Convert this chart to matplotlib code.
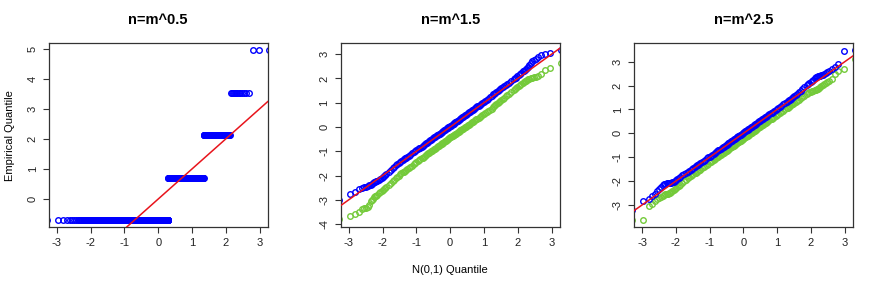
import matplotlib
matplotlib.use("Agg")
import matplotlib.pyplot as plt
import numpy as np
from statistics import NormalDist

n_obs = 1000
titles = ["n=m^0.5", "n=m^1.5", "n=m^2.5"]

# panel 1: standardized sample only takes a few values -> level + how many obs
levels_05 = [-0.71, 0.71, 2.12, 3.54, 4.95]
counts_05 = [618, 293, 73, 13, 3]

ranks = (list(range(1, 16)) + list(range(16, 31, 2)) + list(range(35, 101, 5))
         + list(range(110, 891, 10)) + list(range(900, 966, 5))
         + list(range(971, 986, 2)) + list(range(986, 1001)))

blue_15 = [-3.02, -2.75, -2.68, -2.57, -2.51, -2.48, -2.46, -2.44, -2.41, -2.38, -2.33, -2.30, -2.27, -2.25, -2.23,
           -2.22, -2.19, -2.15, -2.10, -2.06, -2.01, -1.97, -1.93,
           -1.85, -1.77, -1.70, -1.64, -1.58, -1.53, -1.49, -1.44, -1.40, -1.36, -1.33, -1.29, -1.26, -1.23,
           -1.19, -1.14, -1.09, -1.04, -1.00, -0.96, -0.92, -0.88, -0.85, -0.81,
           -0.78, -0.74, -0.70, -0.67, -0.64, -0.61, -0.58, -0.55, -0.52, -0.49,
           -0.46, -0.43, -0.41, -0.38, -0.35, -0.32, -0.30, -0.27, -0.25, -0.22,
           -0.19, -0.17, -0.14, -0.11, -0.09, -0.06, -0.04, -0.01, 0.01, 0.04,
           0.06, 0.09, 0.11, 0.14, 0.16, 0.19, 0.21, 0.24, 0.26, 0.29,
           0.31, 0.34, 0.37, 0.40, 0.42, 0.45, 0.48, 0.51, 0.54, 0.57,
           0.60, 0.63, 0.66, 0.69, 0.72, 0.75, 0.78, 0.81, 0.85, 0.88,
           0.92, 0.96, 1.00, 1.04, 1.08, 1.12, 1.17, 1.22, 1.28,
           1.34, 1.37, 1.41, 1.44, 1.48, 1.52, 1.56, 1.60, 1.64, 1.68, 1.72, 1.77, 1.83, 1.89,
           1.97, 2.00, 2.04, 2.09, 2.13, 2.18, 2.24, 2.29,
           2.32, 2.36, 2.40, 2.44, 2.49, 2.55, 2.62, 2.70, 2.76, 2.82, 2.90, 2.98, 3.01, 3.07, 3.17]
green_15 = [-3.80, -3.66, -3.60, -3.50, -3.40, -3.35, -3.32, -3.28, -3.20, -3.05, -3.00, -2.95, -2.90, -2.86, -2.83,
            -2.80, -2.74, -2.68, -2.64, -2.60, -2.55, -2.51, -2.47,
            -2.38, -2.30, -2.23, -2.17, -2.11, -2.05, -2.00, -1.95, -1.91, -1.87, -1.84, -1.80, -1.76, -1.73,
            -1.68, -1.63, -1.59, -1.54, -1.50, -1.45, -1.41, -1.37, -1.33, -1.29,
            -1.26, -1.22, -1.19, -1.15, -1.12, -1.09, -1.06, -1.03, -1.00, -0.97,
            -0.94, -0.92, -0.89, -0.86, -0.83, -0.80, -0.78, -0.75, -0.72, -0.70,
            -0.67, -0.64, -0.62, -0.59, -0.56, -0.54, -0.51, -0.49, -0.46, -0.43,
            -0.41, -0.38, -0.36, -0.33, -0.31, -0.29, -0.27, -0.24, -0.22, -0.19,
            -0.17, -0.14, -0.12, -0.09, -0.07, -0.04, -0.01, 0.01, 0.04, 0.07,
            0.10, 0.13, 0.16, 0.19, 0.22, 0.25, 0.29, 0.32, 0.35, 0.39,
            0.42, 0.46, 0.49, 0.53, 0.57, 0.61, 0.66, 0.71, 0.76,
            0.84, 0.88, 0.92, 0.96, 1.00, 1.04, 1.08, 1.12, 1.16, 1.21, 1.26, 1.31, 1.38, 1.45,
            1.53, 1.56, 1.60, 1.63, 1.67, 1.72, 1.78, 1.82,
            1.85, 1.88, 1.90, 1.93, 1.96, 1.98, 2.00, 2.02, 2.05, 2.08, 2.12, 2.20, 2.33, 2.43, 2.63]

blue_25 = [-3.22, -2.85, -2.76, -2.64, -2.52, -2.42, -2.32, -2.24, -2.18, -2.14, -2.12, -2.10, -2.09, -2.08, -2.07,
           -2.06, -2.05, -2.03, -2.00, -1.97, -1.92, -1.88, -1.84,
           -1.76, -1.70, -1.65, -1.60, -1.56, -1.52, -1.48, -1.44, -1.40, -1.37, -1.34, -1.31, -1.28, -1.25,
           -1.20, -1.15, -1.10, -1.05, -1.01, -0.97, -0.93, -0.89, -0.85, -0.82,
           -0.78, -0.75, -0.71, -0.68, -0.65, -0.62, -0.59, -0.56, -0.53, -0.50,
           -0.47, -0.44, -0.41, -0.39, -0.36, -0.33, -0.31, -0.28, -0.25, -0.23,
           -0.20, -0.17, -0.15, -0.12, -0.10, -0.07, -0.05, -0.02, 0.00, 0.03,
           0.05, 0.08, 0.10, 0.13, 0.15, 0.18, 0.20, 0.23, 0.25, 0.28,
           0.30, 0.33, 0.36, 0.39, 0.41, 0.44, 0.47, 0.50, 0.52, 0.55,
           0.58, 0.61, 0.64, 0.67, 0.70, 0.74, 0.77, 0.80, 0.84, 0.87,
           0.91, 0.95, 0.99, 1.03, 1.07, 1.11, 1.16, 1.21, 1.26,
           1.32, 1.35, 1.38, 1.41, 1.44, 1.48, 1.52, 1.56, 1.61, 1.66, 1.71, 1.77, 1.84, 1.92,
           2.02, 2.06, 2.11, 2.16, 2.20, 2.25, 2.30, 2.34,
           2.36, 2.38, 2.40, 2.42, 2.44, 2.46, 2.49, 2.52, 2.56, 2.62, 2.70, 2.79, 2.90, 3.46, 3.49]
green_25 = [-3.64, -3.61, -3.06, -2.94, -2.83, -2.76, -2.70, -2.65, -2.61, -2.58, -2.56, -2.54, -2.53, -2.51, -2.49,
            -2.46, -2.42, -2.37, -2.32, -2.28, -2.24, -2.20, -2.16,
            -2.08, -2.01, -1.95, -1.89, -1.84, -1.80, -1.76, -1.72, -1.68, -1.65, -1.62, -1.58, -1.55, -1.52,
            -1.46, -1.41, -1.36, -1.31, -1.27, -1.22, -1.18, -1.14, -1.11, -1.07,
            -1.04, -1.00, -0.97, -0.94, -0.90, -0.87, -0.84, -0.81, -0.78, -0.75,
            -0.72, -0.70, -0.67, -0.64, -0.61, -0.58, -0.56, -0.53, -0.51, -0.48,
            -0.45, -0.42, -0.40, -0.37, -0.35, -0.32, -0.30, -0.27, -0.25, -0.22,
            -0.20, -0.17, -0.15, -0.12, -0.10, -0.07, -0.05, -0.02, 0.00, 0.03,
            0.06, 0.08, 0.11, 0.14, 0.16, 0.19, 0.22, 0.25, 0.27, 0.30,
            0.33, 0.36, 0.39, 0.42, 0.45, 0.48, 0.52, 0.55, 0.58, 0.62,
            0.65, 0.69, 0.73, 0.77, 0.81, 0.85, 0.90, 0.95, 1.00,
            1.05, 1.08, 1.11, 1.14, 1.17, 1.21, 1.24, 1.28, 1.32, 1.37, 1.41, 1.46, 1.52, 1.58,
            1.66, 1.69, 1.72, 1.75, 1.77, 1.79, 1.81, 1.83,
            1.84, 1.86, 1.88, 1.92, 1.97, 2.03, 2.07, 2.10, 2.13, 2.18, 2.26, 2.48, 2.60, 2.68, 3.12]

BLUE = "#0000FF"
GREEN = "#74CA3A"
RED = "#E8141C"
AXC = "#333333"


def normal_quantiles(rank_list, n):
    nd = NormalDist()
    return np.array([nd.inv_cdf((r - 0.5) / n) for r in rank_list])


def r_style(ax, yticks, ylim):
    ax.set_xlim(-3.24, 3.24)
    ax.set_ylim(*ylim)
    ax.set_xticks(range(-3, 4))
    ax.set_yticks(yticks)
    ax.tick_params(direction="out", length=4, width=0.8, colors=AXC,
                   labelsize=8, pad=4, labelcolor="#222222")
    ax.tick_params(axis="y", labelrotation=90)
    for lab in ax.get_yticklabels():
        lab.set_va("center")
    for s in ax.spines.values():
        s.set_color(AXC)
        s.set_linewidth(0.9)


def qpoints(ax, x, y, color):
    ax.plot(x, y, ls="none", marker="o", ms=4.0, mfc="none", mec=color, mew=1.0, zorder=2)


plt.rcParams["font.family"] = ["Liberation Sans", "DejaVu Sans"]
plt.rcParams["axes.unicode_minus"] = False
fig = plt.figure(figsize=(8.78, 2.83), dpi=100)
w, h = 0.2494, 0.649
ax1 = fig.add_axes([0.0555, 0.198, w, h])
ax2 = fig.add_axes([0.388, 0.198, w, h])
ax3 = fig.add_axes([0.722, 0.198, w, h])

# panel 1
y05 = np.repeat(levels_05, counts_05)
x05 = normal_quantiles(range(1, n_obs + 1), n_obs)
qpoints(ax1, x05, y05, BLUE)
r_style(ax1, range(0, 6), (-0.93, 5.18))

# panels 2 and 3
xr = normal_quantiles(ranks, n_obs)
qpoints(ax2, xr, green_15, GREEN)
qpoints(ax2, xr, blue_15, BLUE)
r_style(ax2, range(-4, 4), (-4.12, 3.45))

qpoints(ax3, xr, green_25, GREEN)
qpoints(ax3, xr, blue_25, BLUE)
r_style(ax3, range(-3, 4), (-3.92, 3.77))

for ax, t in zip([ax1, ax2, ax3], titles):
    ax.axline((0, 0), slope=1, color=RED, lw=1.1, zorder=3)
    ax.set_title(t, fontsize=10.5, fontweight="bold", pad=14)

ax1.set_ylabel("Empirical Quantile", fontsize=8, labelpad=9)
ax2.set_xlabel("N(0,1) Quantile", fontsize=8, labelpad=12)

fig.savefig("out.png", dpi=100)
